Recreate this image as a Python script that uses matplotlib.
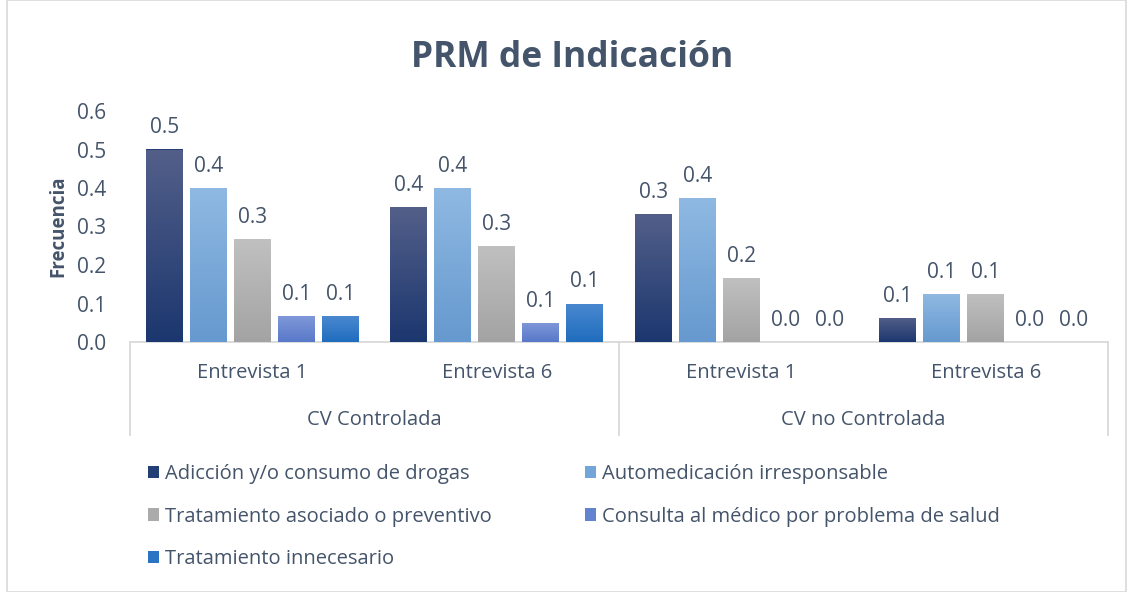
import numpy as np
import matplotlib
matplotlib.use("Agg")
import matplotlib.pyplot as plt
from matplotlib.colors import LinearSegmentedColormap
from matplotlib.patches import Patch, Rectangle
import matplotlib.transforms as mtransforms
from decimal import Decimal, ROUND_HALF_UP

plt.rcParams['font.family'] = ['Open Sans', 'DejaVu Sans']

title = "PRM de Indicación"
ylabel = "Frecuencia"
subcats = ["Entrevista 1", "Entrevista 6", "Entrevista 1", "Entrevista 6"]
groups = ["CV Controlada", "CV no Controlada"]
series_names = ["Adicción y/o consumo de drogas", "Automedicación irresponsable",
                "Tratamiento asociado o preventivo", "Consulta al médico por problema de salud",
                "Tratamiento innecesario"]
adiccion = [0.50, 0.35, 0.333, 0.0625]
automed = [0.40, 0.40, 0.375, 0.125]
trat_asoc = [0.267, 0.25, 0.167, 0.125]
consulta = [0.067, 0.05, 0.0, 0.0]
trat_innec = [0.067, 0.10, 0.0, 0.0]
series = [adiccion, automed, trat_asoc, consulta, trat_innec]
yticks = [0.0, 0.1, 0.2, 0.3, 0.4, 0.5, 0.6]

grad = [("#535F89", "#1C376F"),
        ("#8FB9E2", "#6699CF"),
        ("#C0C0C0", "#A3A3A3"),
        ("#8098D9", "#5878C8"),
        ("#4A88D0", "#1F6DBE")]
solid = ["#243E76", "#72A5D8", "#ABABAB", "#6283CD", "#2A74C3"]
txt = "#44546A"


def fmt(v):
    return str(Decimal(str(v)).quantize(Decimal("0.1"), rounding=ROUND_HALF_UP))


W, H = 1133, 592
fig = plt.figure(figsize=(W / 100, H / 100), dpi=100)
ax = fig.add_axes([130 / W, 1 - 342 / H, (1108 - 130) / W, (342 - 111) / H])

x = np.arange(len(subcats))
step = 0.18
width = 0.151
for i, vals in enumerate(series):
    pos = x + (i - 2) * step
    bars = ax.bar(pos, vals, width=width, color=solid[i], zorder=2)
    cmap = LinearSegmentedColormap.from_list(f"g{i}", [grad[i][1], grad[i][0]])
    for b, v in zip(bars, vals):
        if v > 0:
            bx, by = b.get_x(), b.get_y()
            bw, bh = b.get_width(), b.get_height()
            im = ax.imshow(np.linspace(0, 1, 100).reshape(-1, 1), cmap=cmap, origin='lower',
                           extent=[bx, bx + bw, by, by + bh], aspect='auto', zorder=3)
            im.set_clip_path(b)
        ax.annotate(fmt(v), (b.get_x() + b.get_width() / 2, v), xytext=(0, 8),
                    textcoords='offset points', ha='center', va='bottom',
                    fontsize=15, color=txt)

ax.set_xlim(-0.5, len(subcats) - 0.5)
ax.set_ylim(0, 0.6)
ax.set_yticks(yticks)
ax.set_yticklabels([fmt(t) for t in yticks])
ax.tick_params(axis='y', length=0, pad=17, labelsize=15, labelcolor=txt)
ax.set_xticks(x)
ax.set_xticklabels(subcats)
ax.tick_params(axis='x', length=0, pad=15, labelsize=14.5, labelcolor=txt)
for s in ['top', 'right', 'left']:
    ax.spines[s].set_visible(False)
ax.spines['bottom'].set_color('#D9D9D9')
ax.spines['bottom'].set_linewidth(1.3)

trans = mtransforms.blended_transform_factory(ax.transData, ax.transAxes)
for xv in [-0.5, 1.5, 3.5]:
    ax.plot([xv, xv], [0, -93 / 231], transform=trans, color='#D9D9D9', lw=1.3, clip_on=False)
for gi, g in enumerate(groups):
    ax.text(gi * 2 + 0.5, -78 / 231, g, transform=trans, ha='center', va='center',
            fontsize=14.5, color=txt)

ax.set_ylabel(ylabel, fontsize=13.5, fontweight='bold', color=txt, labelpad=6)
fig.text(572 / W, 1 - 67 / H, title, ha='center', va='baseline', fontsize=25.5,
         fontweight='bold', color=txt)

handles = [Patch(facecolor=solid[i], label=series_names[i]) for i in range(5)]
order = [0, 2, 4, 1, 3]
leg = fig.legend([handles[i] for i in order], [series_names[i] for i in order],
                 ncol=2, loc='upper left', bbox_to_anchor=(130 / W, 1 - 446 / H),
                 frameon=False, fontsize=14.5, handlelength=0.55, handleheight=0.55,
                 handletextpad=0.3, columnspacing=4.6, labelspacing=1.12,
                 labelcolor=txt)

fig.patches.append(Rectangle((7 / W, 0), 1 - 14 / W, 1, transform=fig.transFigure,
                             fill=False, edgecolor='#D9D9D9', lw=1.2))

fig.savefig("out.png", dpi=100)
